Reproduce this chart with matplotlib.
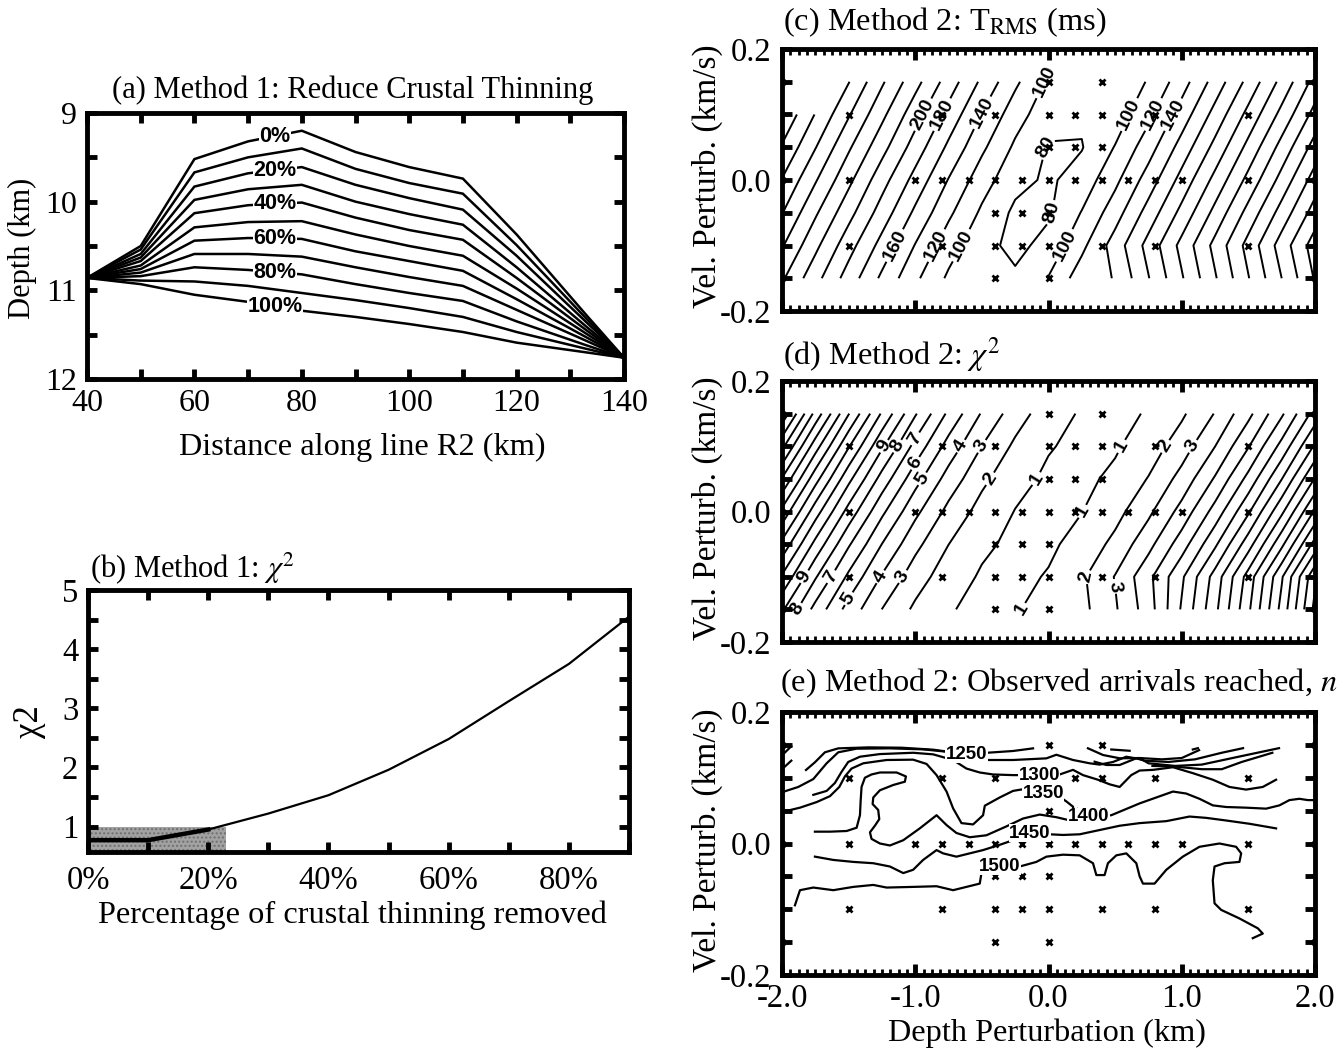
import matplotlib
matplotlib.use("Agg")
import matplotlib.pyplot as plt
import numpy as np
from matplotlib.ticker import MultipleLocator, FormatStrFormatter

plt.rcParams["font.family"] = ["Liberation Serif", "DejaVu Serif"]
plt.rcParams["mathtext.fontset"] = "stix"
plt.rcParams["axes.unicode_minus"] = False
plt.rcParams["axes.linewidth"] = 3.5

W, H = 1340, 1049
FS = 22
FS_R = 23.5
LABEL_FONT = {"font.family": ["Liberation Sans", "DejaVu Sans"], "font.weight": "bold"}

# ---------------- (a) Method 1 interfaces
dist_km = [40, 50, 60, 70, 80, 90, 100, 110, 120, 133, 140]
pct_steps = [0, 10, 20, 30, 40, 50, 60, 70, 80, 90, 100]
moho_depth = [
    [10.86, 10.50, 9.52, 9.32, 9.20, 9.44, 9.61, 9.74, 10.37, 11.28, 11.76],
    [10.86, 10.54, 9.67, 9.50, 9.40, 9.63, 9.79, 9.91, 10.49, 11.32, 11.76],
    [10.86, 10.59, 9.83, 9.68, 9.61, 9.81, 9.96, 10.09, 10.61, 11.36, 11.76],
    [10.86, 10.63, 9.98, 9.86, 9.81, 10.00, 10.14, 10.26, 10.74, 11.41, 11.76],
    [10.86, 10.67, 10.13, 10.04, 10.01, 10.18, 10.32, 10.43, 10.86, 11.45, 11.76],
    [10.86, 10.72, 10.29, 10.23, 10.22, 10.37, 10.50, 10.61, 10.98, 11.49, 11.76],
    [10.86, 10.76, 10.44, 10.41, 10.42, 10.56, 10.67, 10.78, 11.10, 11.53, 11.76],
    [10.86, 10.80, 10.59, 10.59, 10.62, 10.74, 10.85, 10.95, 11.22, 11.57, 11.76],
    [10.86, 10.84, 10.74, 10.77, 10.82, 10.93, 11.03, 11.12, 11.35, 11.62, 11.76],
    [10.86, 10.89, 10.90, 10.95, 11.03, 11.11, 11.20, 11.30, 11.47, 11.66, 11.76],
    [10.86, 10.93, 11.05, 11.13, 11.23, 11.30, 11.38, 11.47, 11.59, 11.70, 11.76],
]
labelled_pct = [0, 20, 40, 60, 80, 100]

# ---------------- (b) Method 1 chi^2
pct_removed = [0, 10, 20, 30, 40, 50, 60, 70, 80, 90]
chi2_method1 = [0.77, 0.77, 0.95, 1.22, 1.53, 1.96, 2.48, 3.12, 3.75, 4.55]
chi2_ok = 1.0
pct_ok = 23

# ---------------- (c)-(e) Method 2 grid search
depth_pert = [-2.0, -1.75, -1.5, -1.25, -1.0, -0.75, -0.5, -0.25, 0.0,
              0.25, 0.5, 0.75, 1.0, 1.25, 1.5, 1.75, 2.0]
vel_pert = [-0.15, -0.10, -0.05, 0.0, 0.05, 0.10, 0.15]
nan = np.nan
trms_ms = [
    [263, 227, 191, 156, 124, 96.5, 81, 83, 101, 131, 141, 179, 218, 258, 299, 340, 382],
    [282, 245, 208, 173, 139, 109, 86, 75, 86, 115, 149, 187, 226, 266, 307, 349, 390],
    [301, 263, 227, 191, 156, 124, 96.5, 76, 77.5, 101, 131, 168, 206, 246, 287, 328, 369],
    [319, 282, 245, 208, 173, 139, 109, 86, 77, 88, 115, 149, 187, 226, 266, 307, 349],
    [338, 301, 263, 227, 191, 156, 124, 96.5, 78.5, 79, 101, 131, 168, 206, 246, 287, 328],
    [357, 319, 282, 245, 208, 173, 139, 109, 87, 83, 89, 115, 149, 187, 226, 266, 307],
    [nan, nan, 301, 263, 227, 191, 156, 124, 96.5, 88, 90, 101, 131, 168, 206, 246, 287],
]
chi2_method2 = [
    [9.16, 6.67, 4.61, 2.99, 1.81, 1.07, 0.76, 0.89, 1.48, 1.72, 2.88, 4.50, 7.12, 9.74, 12.81, 16.33, 20.29],
    [10.87, 8.11, 5.79, 3.91, 2.47, 1.46, 0.89, 0.76, 1.07, 1.84, 3.05, 4.72, 6.83, 9.40, 12.41, 15.88, 19.79],
    [12.73, 9.71, 7.13, 4.99, 3.28, 2.01, 1.18, 0.79, 0.83, 1.33, 2.27, 3.67, 5.51, 7.81, 10.55, 13.75, 17.39],
    [14.75, 11.47, 8.63, 6.22, 4.25, 2.72, 1.63, 0.97, 0.75, 0.98, 1.65, 2.78, 4.35, 6.38, 8.85, 11.78, 15.15],
    [16.93, 13.39, 10.28, 7.61, 5.38, 3.59, 2.23, 1.31, 0.83, 0.79, 1.19, 2.05, 3.35, 5.11, 7.31, 9.97, 13.07],
    [19.27, 15.46, 12.09, 9.16, 6.67, 4.61, 2.99, 1.81, 1.07, 0.76, 0.89, 1.48, 2.51, 3.99, 5.93, 8.32, 11.15],
    [21.76, 17.69, 14.06, 10.87, 8.11, 5.79, 3.91, 2.47, 1.46, 0.89, 0.76, 1.07, 1.84, 3.05, 4.72, 6.83, 9.40],
]
trms_levels = list(range(80, 440, 20))
chi2_levels = list(range(1, 24))

# models actually run (x marks)
sample_depth = [-2, 0, 0.4, 2,
                -1.5, -0.8, -0.4, 0, 0.2, 0.4, 0.8, 1.5,
                0, 0.2, 0.4,
                -2, -1.5, -1.0, -0.8, -0.6, -0.4, -0.2, 0, 0.2, 0.4, 0.6, 0.8, 1.0, 1.5, 2,
                -0.4, -0.2, 0,
                -1.5, -0.8, -0.4, -0.2, 0, 0.4, 0.8, 1.5,
                -2, -0.4, 0, 2]
sample_vel = [0.15] * 4 + [0.10] * 8 + [0.05] * 3 + [0.0] * 15 + [-0.05] * 3 + [-0.10] * 8 + [-0.15] * 4

# (e) traced contours of observed arrivals reached, n
n1500_x = [-1.903, -1.865, -1.765, -1.615, -1.465, -1.315, -1.215, -1.016, -0.840, -0.716, -0.616,
           -0.516, -0.503, -0.478, -0.366, -0.216, -0.091, -0.016, 0.109, 0.234, 0.334, 0.359, 0.421,
           0.446, 0.509, 0.584, 0.659, 0.684, 0.709, 0.796, 0.884, 1.008, 1.133, 1.283, 1.408, 1.446,
           1.433, 1.321, 1.246, 1.233, 1.246, 1.296, 1.433, 1.571, 1.608, 1.533]
n1500_y = [-0.094, -0.071, -0.067, -0.071, -0.066, -0.063, -0.067, -0.066, -0.065, -0.071, -0.066,
           -0.061, -0.045, -0.038, -0.036, -0.035, -0.028, -0.020, -0.017, -0.018, -0.030, -0.048, -0.048,
           -0.030, -0.018, -0.015, -0.030, -0.050, -0.061, -0.061, -0.040, -0.020, -0.005, 0.000, -0.005,
           -0.015, -0.028, -0.030, -0.035, -0.056, -0.091, -0.101, -0.114, -0.129, -0.137, -0.144]
n1450_x = [-1.753, -1.615, -1.465, -1.315, -1.190, -1.090, -1.016, -0.941, -0.840, -0.791, -0.691,
           -0.591, -0.491, -0.366, -0.266, -0.141, 0.009, 0.109, 0.234, 0.384, 0.534, 0.684, 0.884,
           1.058, 1.183, 1.333, 1.508, 1.708]
n1450_y = [-0.020, -0.025, -0.028, -0.030, -0.035, -0.045, -0.040, -0.025, -0.010, -0.015, -0.020,
           -0.015, -0.010, -0.002, 0.005, 0.0155, 0.014, 0.013, 0.014, 0.0205, 0.027, 0.031, 0.034,
           0.041, 0.039, 0.035, 0.030, 0.023]
n1400_x = [-1.753, -1.640, -1.515, -1.440, -1.415, -1.410, -1.403, -1.378, -1.328, -1.265, -1.140,
           -1.070, -1.078, -1.165, -1.265, -1.315, -1.320, -1.278, -1.270, -1.303, -1.340, -1.328,
           -1.265, -1.190, -1.090, -0.966, -0.840, -0.765, -0.691, -0.591, -0.466, -0.316, -0.191,
           -0.066, 0.059, 0.184, 0.30, 0.471, 0.684, 0.934, 1.033, 1.133, 1.233, 1.333, 1.483, 1.633,
           1.733, 1.808, 1.883, 1.946, 2.0]
n1400_y = [0.018, 0.018, 0.019, 0.024, 0.043, 0.064, 0.086, 0.100, 0.105, 0.108, 0.108,
           0.102, 0.094, 0.089, 0.081, 0.070, 0.060, 0.051, 0.037, 0.027, 0.017, 0.007,
           0.000, -0.003, 0.005, 0.023, 0.043, 0.028, 0.016, 0.0095, 0.0125, 0.026, 0.038,
           0.044, 0.040, 0.034, 0.041, 0.043, 0.061, 0.079, 0.076, 0.068, 0.058, 0.0555, 0.0545, 0.053,
           0.058, 0.066, 0.068, 0.066, 0.066]
n1350_x = [-1.978, -1.865, -1.740, -1.640, -1.570, -1.528, -1.478, -1.390, -1.215, -1.016, -0.915,
           -0.840, -0.765, -0.716, -0.653, -0.566, -0.491, -0.478, -0.366, -0.266, -0.178, -0.04,
           0.084, 0.134, 0.184, 0.19]
n1350_y = [0.049, 0.0545, 0.063, 0.072, 0.086, 0.102, 0.114, 0.122, 0.127, 0.1275, 0.121,
           0.104, 0.079, 0.0535, 0.031, 0.029, 0.043, 0.0575, 0.070, 0.080, 0.083, 0.076,
           0.071, 0.064, 0.056, 0.045]
n1300_x = [-1.765, -1.665, -1.603, -1.553, -1.503, -1.415, -1.265, -1.016, -0.866, -0.716, -0.616,
           -0.516, -0.416, -0.266, -0.07, 0.084, 0.184, 0.259, 0.371, 0.459, 0.534, 0.621, 0.684,
           0.784, 0.934, 1.083, 1.233, 1.358, 1.483, 1.608, 1.708]
n1300_y = [0.074, 0.080, 0.092, 0.109, 0.124, 0.132, 0.136, 0.138, 0.1356, 0.127, 0.114,
           0.108, 0.105, 0.104, 0.104, 0.105, 0.112, 0.104, 0.097, 0.090, 0.086, 0.104, 0.111,
           0.112, 0.116, 0.107, 0.097, 0.086, 0.082, 0.086, 0.097]
n1250a_x = [-2.0, -1.878, -1.765, -1.665, -1.578, -1.440, -1.190, -0.941, -0.765, -0.62, -0.491,
            -0.266, -0.016, 0.059, 0.184, 0.309, 0.384, 0.484, 0.584, 0.70]
n1250a_y = [0.078, 0.086, 0.098, 0.122, 0.1387, 0.1442, 0.1447, 0.1432, 0.1396, 0.134, 0.127,
            0.127, 0.1295, 0.135, 0.127, 0.122, 0.120, 0.124, 0.132, 0.128]
n1250b_x = [-1.820, -1.753, -1.678, -1.578, -1.353, -1.103, -0.866, -0.716, -0.62, -0.491, -0.266, -0.116]
n1250b_y = [0.1118, 0.1235, 0.1387, 0.1447, 0.1462, 0.1457, 0.1427, 0.1386, 0.136, 0.1376, 0.1407, 0.1447]
n1200a_x = [0.296, 0.409, 0.534, 0.684, 0.85, 1.0, 1.13]
n1200a_y = [0.1448, 0.1346, 0.1296, 0.130, 0.128, 0.130, 0.142]
n1200b_x = [0.346, 0.434, 0.534, 0.659, 0.72, 0.9, 1.1, 1.3, 1.46]
n1200b_y = [0.1244, 0.1194, 0.1194, 0.1296, 0.126, 0.124, 0.128, 0.138, 0.145]
n1200c_x = [0.70, 0.75, 0.95, 1.15, 1.45, 1.73]
n1200c_y = [0.128, 0.122, 0.118, 0.12, 0.133, 0.145]
n1200d_x = [0.78, 0.95, 1.15, 1.3, 1.45, 1.68]
n1200d_y = [0.118, 0.117, 0.113, 0.113, 0.124, 0.138]
n1200e_x = [0.471, 0.609]
n1200e_y = [0.143, 0.141]
n1200f_x = [1.083, 1.121]
n1200f_y = [0.143, 0.145]
n1150a_x = [-1.995, -1.93]
n1150a_y = [0.135, 0.148]
n1150b_x = [-2.0, -1.93]
n1150b_y = [0.113, 0.126]

e_lines = [(n1500_x, n1500_y), (n1450_x, n1450_y), (n1400_x, n1400_y), (n1350_x, n1350_y),
           (n1300_x, n1300_y), (n1250a_x, n1250a_y), (n1250b_x, n1250b_y), (n1200a_x, n1200a_y),
           (n1200b_x, n1200b_y), (n1200c_x, n1200c_y), (n1200d_x, n1200d_y), (n1200e_x, n1200e_y),
           (n1200f_x, n1200f_y), (n1150a_x, n1150a_y), (n1150b_x, n1150b_y)]
e_labels = [("1250", -0.616, 0.136), ("1300", -0.07, 0.104), ("1350", -0.04, 0.076),
            ("1400", 0.30, 0.041), ("1450", -0.141, 0.0155), ("1500", -0.366, -0.035)]


def px_axes(fig, l, t, r, b):
    return fig.add_axes([l / W, 1 - b / H, (r - l) / W, (b - t) / H])


def style_ticks(ax, size):
    ax.tick_params(which="both", direction="in", top=True, right=True, labelsize=size)
    ax.tick_params(which="major", length=7, width=3.5, pad=7)
    ax.tick_params(which="minor", length=7, width=3.5)


def grid_axes(ax, show_x):
    ax.set_xlim(-2, 2)
    ax.set_ylim(-0.2, 0.2)
    ax.xaxis.set_major_locator(MultipleLocator(1.0))
    ax.xaxis.set_minor_locator(MultipleLocator(0.0625))
    ax.yaxis.set_major_locator(MultipleLocator(0.2))
    ax.yaxis.set_minor_locator(MultipleLocator(0.05))
    ax.tick_params(which="both", direction="in", top=True, right=True, labelsize=FS_R)
    ax.tick_params(axis="x", which="major", length=8, width=3.5, pad=6)
    ax.tick_params(axis="x", which="minor", length=4, width=2)
    ax.tick_params(axis="y", which="both", length=7, width=3.5, pad=8)
    ax.xaxis.set_major_formatter(FormatStrFormatter("%.1f"))
    ax.yaxis.set_major_formatter(FormatStrFormatter("%.1f"))
    if not show_x:
        ax.tick_params(axis="x", labelbottom=False)
    ax.plot(sample_depth, sample_vel, "x", color="black", ms=5, mew=2, zorder=4)


def label_contours(ax, cs, spots):
    # snap each wanted spot onto its own level so clabel picks that line
    lev_list = list(cs.levels)
    pts = []
    for lev, lx, ly in spots:
        verts = cs.get_paths()[lev_list.index(lev)].vertices
        d = ax.transData.transform(verts) - ax.transData.transform((lx, ly))
        pts.append(tuple(verts[np.argmin((d ** 2).sum(axis=1))]))
    with plt.rc_context(LABEL_FONT):
        cs.clabel(manual=pts, fmt="%d", fontsize=14, inline=True, inline_spacing=2)


fig = plt.figure(figsize=(W / 100, H / 100), dpi=100)

# ---- (a)
ax = px_axes(fig, 87, 113, 624, 379)
for pct, depth in zip(pct_steps, moho_depth):
    ax.plot(dist_km, depth, color="black", lw=1.8, solid_joinstyle="miter")
with plt.rc_context(LABEL_FONT):
    for pct, depth in zip(pct_steps, moho_depth):
        if pct in labelled_pct:
            ax.text(75, np.interp(75, dist_km, depth), f"{pct}%", ha="center", va="center",
                    fontsize=15.5, fontweight="bold",
                    bbox=dict(facecolor="white", edgecolor="none", pad=0.5), zorder=5)
ax.set_xlim(40, 140)
ax.set_ylim(12, 9)
ax.xaxis.set_major_locator(MultipleLocator(20))
ax.xaxis.set_minor_locator(MultipleLocator(10))
ax.yaxis.set_major_locator(MultipleLocator(1))
ax.yaxis.set_minor_locator(MultipleLocator(0.5))
style_ticks(ax, 23)
fig.text(112 / W, 1 - 90 / H, "(a) Method 1: Reduce Crustal Thinning", fontsize=FS, va="center")
fig.text(22 / W, 1 - 248 / H, "Depth (km)", fontsize=FS, rotation=90, ha="center", va="center")
fig.text(362 / W, 1 - 447 / H, "Distance along line R2 (km)", fontsize=23.3, ha="center", va="center")

# ---- (b)
ax = px_axes(fig, 88, 590, 629, 852)
ax.fill_between([0, pct_ok], 0.0, chi2_ok, facecolor="#a2a2a2", edgecolor="#707070",
                hatch="....", linewidth=0, zorder=1)
ax.plot(pct_removed, chi2_method1, color="black", lw=1.6, zorder=3)
ax.plot(pct_removed[:3], chi2_method1[:3], color="black", lw=3.2, zorder=3)
ax.set_xlim(0, 90)
ax.set_ylim(0.57, 5)
ax.xaxis.set_major_locator(MultipleLocator(20))
ax.xaxis.set_minor_locator(MultipleLocator(10))
ax.yaxis.set_major_locator(MultipleLocator(1))
ax.yaxis.set_minor_locator(MultipleLocator(0.5))
ax.xaxis.set_major_formatter(FormatStrFormatter("%d%%"))
style_ticks(ax, 23.5)
ax.tick_params(axis="x", pad=10)
fig.text(90 / W, 1 - 568 / H, r"(b) Method 1: $\chi^2$", fontsize=FS, va="center")
fig.text(30 / W, 1 - 722 / H, "\u03c72", fontsize=FS + 3, rotation=90, ha="center", va="center")
fig.text(352 / W, 1 - 915 / H, "Percentage of crustal thinning removed", fontsize=23.3, ha="center", va="center")

X, Y = np.meshgrid(depth_pert, vel_pert)

# ---- (c)
ax = px_axes(fig, 782, 49, 1315, 311)
grid_axes(ax, False)
cs = ax.contour(X, Y, np.array(trms_ms, dtype=float), levels=trms_levels, colors="black", linewidths=1.4)
label_contours(ax, cs, [(200, -1.0, 0.097), (180, -0.75, 0.10), (140, -0.52, 0.117), (100, 0.08, 0.13),
                        (80, 0.02, 0.04), (80, 0.06, -0.05), (100, 0.03, -0.12), (100, 0.63, 0.12),
                        (120, 0.82, 0.094), (140, 0.98, 0.087), (160, -1.24, -0.108), (120, -0.89, -0.09),
                        (100, -0.64, -0.10)])
fig.text(783 / W, 1 - 22 / H, r"(c) Method 2: T$_{\mathrm{RMS}}$ (ms)", fontsize=23.3, va="center")
fig.text(707 / W, 1 - 176 / H, "Vel. Perturb. (km/s)", fontsize=24, rotation=90, ha="center", va="center")

# ---- (d)
ax = px_axes(fig, 782, 381, 1315, 642)
grid_axes(ax, False)
cs = ax.contour(X, Y, np.array(chi2_method2), levels=chi2_levels, colors="black", linewidths=1.4)
label_contours(ax, cs, [(9, -1.23, 0.121), (8, -1.24, 0.093), (7, -1.02, 0.111), (6, -1.02, 0.083),
                        (5, -0.9, 0.07), (4, -0.63, 0.106), (3, -0.54, 0.086), (2, -0.35, 0.071),
                        (1, -0.055, 0.058), (9, -1.9, -0.10), (8, -1.89, -0.135), (7, -1.68, -0.099),
                        (5, -1.55, -0.13), (4, -1.34, -0.109), (3, -1.19, -0.117), (1, -0.2, -0.15),
                        (1, 0.43, 0.14), (1, 0.31, 0.0), (2, 0.97, 0.104), (3, 1.23, 0.111),
                        (2, 0.44, -0.094), (3, 0.59, -0.13)])
fig.text(783 / W, 1 - 355 / H, r"(d) Method 2: $\chi^2$", fontsize=23.3, va="center")
fig.text(707 / W, 1 - 508 / H, "Vel. Perturb. (km/s)", fontsize=24, rotation=90, ha="center", va="center")

# ---- (e)
ax = px_axes(fig, 782, 712, 1315, 975)
grid_axes(ax, True)
for xs, ys in e_lines:
    ax.plot(xs, ys, color="black", lw=1.6, zorder=3)
with plt.rc_context(LABEL_FONT):
    for txt, lx, ly in e_labels:
        ax.text(lx, ly, txt, ha="center", va="center", fontsize=13.5, fontweight="bold",
                bbox=dict(facecolor="white", edgecolor="none", pad=0.3), zorder=5)
fig.text(780 / W, 1 - 683 / H, r"(e) Method 2: Observed arrivals reached, $n$", fontsize=23.3, va="center")
fig.text(707 / W, 1 - 840 / H, "Vel. Perturb. (km/s)", fontsize=24, rotation=90, ha="center", va="center")
fig.text(1047 / W, 1 - 1033 / H, "Depth Perturbation (km)", fontsize=23.3, ha="center", va="center")

fig.savefig("out.png", dpi=100)
